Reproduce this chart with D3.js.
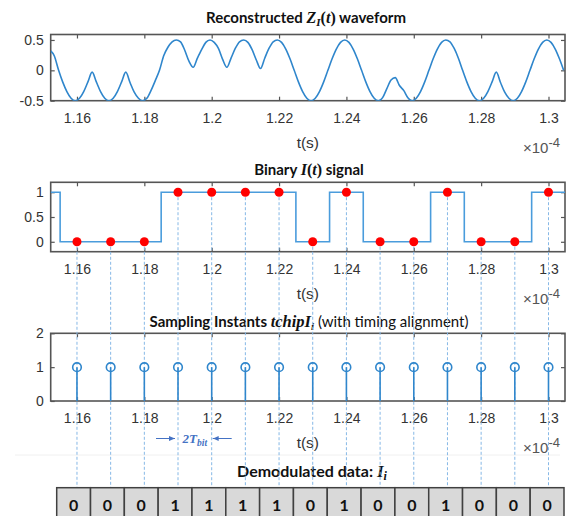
<!DOCTYPE html>
<html><head><meta charset="utf-8">
<script src="https://cdn.jsdelivr.net/npm/d3@7"></script>
<style>body{margin:0;background:#fff}</style>
</head><body><svg id="c" width="576" height="516"></svg>
<script>
// ---------------- data ----------------
const sampleTimes = [1.16,1.17,1.18,1.19,1.20,1.21,1.22,1.23,1.24,1.25,1.26,1.27,1.28,1.29,1.30];
const sampledBits = [0,0,0,1,1,1,1,0,1,0,0,1,0,0,1];
const stemValues  = [1,1,1,1,1,1,1,1,1,1,1,1,1,1,1];
const demodBits   = [0,0,0,1,1,1,1,0,1,0,0,1,0,0,0];
const stepTimes   = [1.1522,1.155,1.185,1.225,1.235,1.245,1.265,1.275,1.295,1.3049];
const stepLevels  = [1,0,1,0,1,0,1,0,1,1];
const xTicks  = [1.16,1.18,1.2,1.22,1.24,1.26,1.28,1.3];
const yTicks1 = [-0.5,0,0.5];
const yTicks2 = [0,0.5,1];
const yTicks3 = [0,1,2];
const waveT = [1.1522,1.15325,1.1545,1.15575,1.157,1.15825,1.1595,1.16075,1.162,1.16325,1.1645,
  1.16575,1.167,1.16825,1.1695,1.17075,1.172,1.17325,1.1745,
  1.17575,1.177,1.17825,1.1795,1.18075,1.182,1.18325,1.1845,
  1.18575,1.187,1.18825,1.1895,1.19075,1.192,1.19325,1.1945,
  1.19575,1.197,1.19825,1.1995,1.20075,1.202,1.20325,1.2045,
  1.20575,1.207,1.20825,1.2095,1.21075,1.212,1.21325,1.2145,
  1.21575,1.217,1.21825,1.2195,1.22075,1.222,1.22325,1.2245,
  1.22575,1.227,1.22825,1.2295,1.23075,1.232,1.23325,1.2345,
  1.23575,1.237,1.23825,1.2395,1.24075,1.242,1.24325,1.2445,
  1.24575,1.247,1.24825,1.2495,1.25075,1.252,1.25325,1.2545,
  1.25575,1.257,1.25825,1.2595,1.26075,1.262,1.26325,1.2645,
  1.26575,1.267,1.26825,1.2695,1.27075,1.272,1.27325,1.2745,
  1.27575,1.277,1.27825,1.2795,1.28075,1.282,1.28325,1.2845,
  1.28575,1.287,1.28825,1.2895,1.29075,1.292,1.29325,1.2945,
  1.29575,1.297,1.29825,1.2995,1.30075,1.302,1.30325,1.3045];
const waveZ = [0.32,0.24,0.01,-0.19,-0.35,-0.46,-0.5,-0.46,-0.35,-0.19,-0.03,
  -0.19,-0.35,-0.46,-0.5,-0.46,-0.35,-0.19,-0.03,
  -0.2,-0.36,-0.46,-0.5,-0.46,-0.33,-0.17,0.0,
  0.24,0.38,0.47,0.5,0.47,0.33,0.15,0.05,
  0.2,0.34,0.46,0.5,0.46,0.36,0.18,0.05,
  0.2,0.36,0.47,0.5,0.46,0.34,0.17,0.03,
  0.2,0.36,0.47,0.5,0.46,0.35,0.19,0.0,
  -0.19,-0.35,-0.46,-0.5,-0.46,-0.35,-0.19,0.0,
  0.19,0.35,0.46,0.5,0.46,0.35,0.19,0.0,
  -0.19,-0.35,-0.46,-0.5,-0.45,-0.3,-0.16,-0.12,
  -0.25,-0.33,-0.45,-0.5,-0.46,-0.35,-0.19,0.0,
  0.19,0.35,0.46,0.5,0.47,0.36,0.2,0.0,
  -0.19,-0.35,-0.46,-0.5,-0.46,-0.35,-0.19,-0.03,
  -0.2,-0.36,-0.46,-0.5,-0.46,-0.35,-0.19,0.0,
  0.19,0.35,0.46,0.5,0.46,0.35,0.19,0.0];

// ---------------- layout ----------------
const W=576,H=516,L=50.7,R=565;
const SANS='Liberation Sans, Arial, sans-serif';
const TITLE='Lato, Open Sans, sans-serif';
const SERIF='Liberation Serif, DejaVu Serif, serif';
const BLUE='#2f86cc', STEPBLUE='#4a9cdc', DASH='#86b8e6';
const svg=d3.select("#c");
svg.append("rect").attr("width",W).attr("height",H).attr("fill","#fff");
const x=d3.scaleLinear().domain([1.1522,1.3049]).range([L,R]);
const panels=[
  {top:34.5,bottom:100.7,domain:[-0.5,0.59],ticks:yTicks1},
  {top:182.3,bottom:251.7,domain:[-0.2,1.2],ticks:yTicks2},
  {top:333.3,bottom:401,domain:[0,2],ticks:yTicks3}];
const ys=[];
const defs=svg.append("defs");
panels.forEach((p,i)=>{
  const y=d3.scaleLinear().domain(p.domain).range([p.bottom,p.top]);
  ys.push(y);
  defs.append("clipPath").attr("id","clip"+i).append("rect")
    .attr("x",L).attr("y",p.top).attr("width",R-L).attr("height",p.bottom-p.top);
  const g=svg.append("g");
  g.append("g").attr("transform",`translate(0,${p.bottom})`)
    .call(d3.axisBottom(x).tickValues(xTicks).tickFormat(d=>String(+d.toFixed(2))).tickSizeInner(-4).tickSizeOuter(0).tickPadding(12));
  g.append("g").attr("transform",`translate(0,${p.top})`)
    .call(d3.axisTop(x).tickValues(xTicks).tickFormat("").tickSizeInner(-4).tickSizeOuter(0));
  g.append("g").attr("transform",`translate(${L},0)`)
    .call(d3.axisLeft(y).tickValues(p.ticks).tickFormat(d=>String(d)).tickSizeInner(-4).tickSizeOuter(0).tickPadding(7));
  g.append("g").attr("transform",`translate(${R},0)`)
    .call(d3.axisRight(y).tickValues(p.ticks).tickFormat("").tickSizeInner(-4).tickSizeOuter(0));
  g.selectAll(".domain").remove();
  g.selectAll("g").attr("font-family",SANS).attr("font-size",14);
  g.selectAll(".tick line").attr("stroke","#555").attr("stroke-width",1.2);
  g.selectAll(".tick text").attr("font-size",14).attr("fill","#333").style("font-family",SANS);
  g.append("rect").attr("x",L).attr("y",p.top).attr("width",R-L).attr("height",p.bottom-p.top)
    .attr("fill","none").attr("stroke","#555").attr("stroke-width",1.6);
  // axis label and exponent
  g.append("text").attr("x",(L+R)/2).attr("y",p.bottom+47).attr("text-anchor","middle")
    .style("font-family",SANS).attr("font-size",15.5).attr("fill","#333").text("t(s)");
  const e=g.append("text").attr("x",523).attr("y",p.bottom+52).style("font-family",SANS).attr("fill","#555").attr("font-size",15);
  e.append("tspan").text("×10");
  e.append("tspan").attr("font-size",13).attr("dy",-6).text("-4");
});

// rich text helper
function rich(xc,yb,parts){
  const t=svg.append("text").attr("x",xc).attr("y",yb).attr("text-anchor","middle").attr("fill","#111");
  parts.forEach(pt=>{
    const s=t.append("tspan").text(pt.t).style("font-family",pt.f||TITLE)
      .attr("font-size",pt.s||15).attr("font-weight",pt.w||"bold").attr("font-style",pt.i?"italic":"normal");
    if(pt.dy) s.attr("dy",pt.dy);
    if(pt.fill) s.attr("fill",pt.fill);
  });
  return t;
}
rich(306,23,[{t:"Reconstructed "},{t:"Z",f:SERIF,i:1,s:16},{t:"I",f:SERIF,i:1,s:11,dy:3},{t:"(",f:SERIF,s:16,dy:-3},{t:"t",f:SERIF,i:1,s:16},{t:")",f:SERIF,s:16},{t:" waveform"}]);
rich(309,175,[{t:"Binary "},{t:"I",f:SERIF,i:1,s:16},{t:"(",f:SERIF,s:16},{t:"t",f:SERIF,i:1,s:16},{t:")",f:SERIF,s:16},{t:" signal"}]);
rich(309,327,[{t:"Sampling Instants "},{t:"tchipI",f:SERIF,i:1,s:16.5},{t:"i",f:SERIF,i:1,s:11,dy:3},{t:" (with timing alignment)",w:"normal",dy:-3}]);
rich(312,477,[{t:"Demodulated data: ",s:16},{t:"I",f:SERIF,i:1,s:17},{t:"i",f:SERIF,i:1,s:12,dy:3}]);

// faint separator
svg.append("line").attr("x1",15).attr("x2",560).attr("y1",455).attr("y2",455).attr("stroke","#f0f0f0");

// waveform
svg.append("path").datum(waveT.map((t,i)=>[t,waveZ[i]])).attr("clip-path","url(#clip0)")
  .attr("fill","none").attr("stroke",BLUE).attr("stroke-width",1.6)
  .attr("d",d3.line().x(d=>x(d[0])).y(d=>ys[0](d[1])).curve(d3.curveMonotoneX));

// step
svg.append("path").datum(stepTimes.map((t,i)=>[t,stepLevels[i]])).attr("clip-path","url(#clip1)")
  .attr("fill","none").attr("stroke",STEPBLUE).attr("stroke-width",1.6)
  .attr("d",d3.line().x(d=>x(d[0])).y(d=>ys[1](d[1])).curve(d3.curveStepAfter));

// table
const tableTop=487.7;
const band=d3.scaleBand().domain(d3.range(demodBits.length)).range([56.7,564]);

// dashed guide lines
svg.append("g").selectAll("line").data(sampleTimes).join("line")
  .attr("x1",d=>x(d)).attr("x2",d=>x(d))
  .attr("y1",(d,i)=>ys[1](sampledBits[i])).attr("y2",tableTop)
  .attr("stroke",DASH).attr("stroke-width",1).attr("stroke-dasharray","3,2");

// stems
const sg=svg.append("g");
sg.selectAll("line").data(sampleTimes).join("line")
  .attr("x1",d=>x(d)).attr("x2",d=>x(d)).attr("y1",ys[2](0)).attr("y2",(d,i)=>ys[2](stemValues[i]))
  .attr("stroke",BLUE).attr("stroke-width",1.6);
sg.selectAll("circle").data(sampleTimes).join("circle")
  .attr("cx",d=>x(d)).attr("cy",(d,i)=>ys[2](stemValues[i])).attr("r",4.3)
  .attr("fill","none").attr("stroke",BLUE).attr("stroke-width",1.6);

// red dots
svg.append("g").selectAll("circle").data(sampleTimes).join("circle")
  .attr("cx",d=>x(d)).attr("cy",(d,i)=>ys[1](sampledBits[i])).attr("r",4.5).attr("fill","#ff0000");

// 2T_bit annotation
const ay=438.5;
const ag=svg.append("g");
defs.append("marker").attr("id","ah").attr("viewBox","0 0 10 10").attr("refX",10).attr("refY",5)
  .attr("markerWidth",6).attr("markerHeight",6).attr("orient","auto")
  .append("path").attr("d","M0,1L10,5L0,9Z").attr("fill","#4472c4");
ag.append("line").attr("x1",x(1.19)-22).attr("x2",x(1.19)-3).attr("y1",ay).attr("y2",ay)
  .attr("stroke","#4472c4").attr("stroke-width",1).attr("marker-end","url(#ah)");
ag.append("line").attr("x1",x(1.2)+20).attr("x2",x(1.2)+1).attr("y1",ay).attr("y2",ay)
  .attr("stroke","#4472c4").attr("stroke-width",1).attr("marker-end","url(#ah)");
const at=ag.append("text").attr("x",(x(1.19)+x(1.2))/2).attr("y",ay+4).attr("text-anchor","middle")
  .attr("fill","#4472c4").style("font-family",SERIF).attr("font-style","italic").attr("font-weight","bold");
at.append("tspan").attr("font-size",13).text("2T");
at.append("tspan").attr("font-size",9.5).attr("dy",3).text("bit");

// table cells
const tg=svg.append("g");
tg.selectAll("rect").data(demodBits).join("rect")
  .attr("x",(d,i)=>band(i)).attr("y",tableTop).attr("width",band.bandwidth()).attr("height",40)
  .attr("fill","#d9d9d9").attr("stroke","#404040").attr("stroke-width",1.5);
tg.selectAll("text").data(demodBits).join("text")
  .attr("x",(d,i)=>band(i)+band.bandwidth()/2).attr("y",511).attr("text-anchor","middle")
  .style("font-family",TITLE).attr("font-weight","bold").attr("font-size",16).attr("fill","#111")
  .text(d=>String(d));
</script></body></html>
